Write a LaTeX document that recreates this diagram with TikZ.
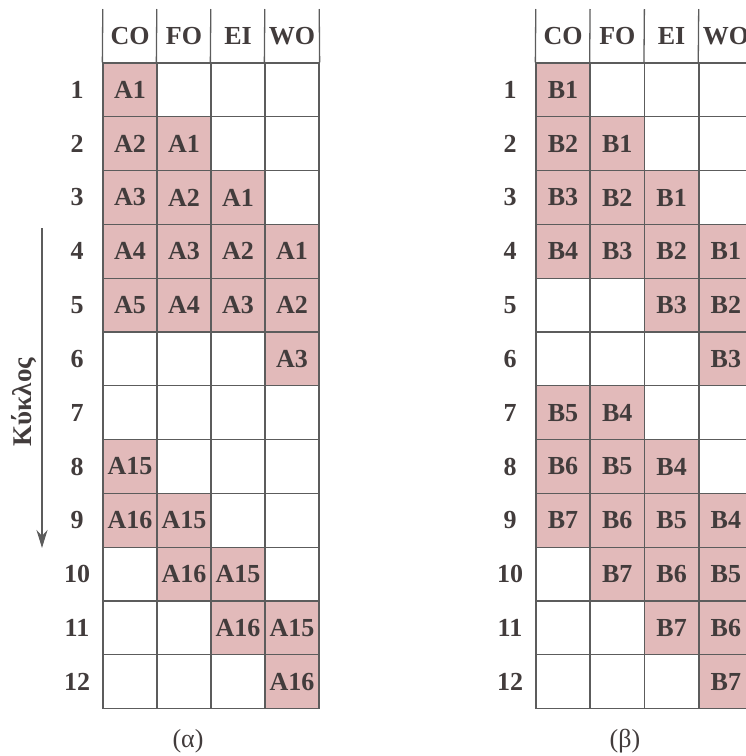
\documentclass[tikz,border=0pt]{standalone}
\usepackage{fontspec}
\setmainfont{Liberation Serif}
\usetikzlibrary{arrows.meta}
\definecolor{cellpink}{RGB}{226,186,186}
\definecolor{inkgray}{RGB}{66,60,60}
\definecolor{rulegray}{RGB}{92,92,92}

\tikzset{
  cell/.style={draw=rulegray, line width=1.3pt, minimum width=54pt, minimum height=53.8pt, inner sep=0pt},
  full/.style={cell, fill=cellpink, text=inkgray, font=\fontsize{26}{30}\selectfont\bfseries},
  head/.style={minimum width=54pt, minimum height=53.8pt, inner sep=0pt, text=inkgray, font=\fontsize{26}{30}\selectfont\bfseries},
  rownum/.style={text=inkgray, font=\fontsize{26}{30}\selectfont\bfseries},
  rule/.style={draw=rulegray, line width=1.3pt}
}

\begin{document}
\begin{tikzpicture}[x=1pt, y=-1pt]
\clip (0,0) rectangle (746,756);

% filled cells
\foreach \r/\c/\t in {1/1/A1, 2/1/A2, 2/2/A1, 3/1/A3, 3/2/A2, 3/3/A1,
    4/1/A4, 4/2/A3, 4/3/A2, 4/4/A1, 5/1/A5, 5/2/A4, 5/3/A3, 5/4/A2,
    6/4/A3, 8/1/A15, 9/1/A16, 9/2/A15, 10/2/A16, 10/3/A15,
    11/3/A16, 11/4/A15, 12/4/A16}
  \node[full] (fL-\r-\c) at ({76+54*\c}, {36.1+53.8*\r}) {\t};
\foreach \r/\c/\t in {1/1/B1, 2/1/B2, 2/2/B1, 3/1/B3, 3/2/B2, 3/3/B1,
    4/1/B4, 4/2/B3, 4/3/B2, 4/4/B1, 5/3/B3, 5/4/B2, 6/4/B3,
    7/1/B5, 7/2/B4, 8/1/B6, 8/2/B5, 8/3/B4,
    9/1/B7, 9/2/B6, 9/3/B5, 9/4/B4, 10/2/B7, 10/3/B6, 10/4/B5,
    11/3/B7, 11/4/B6, 12/4/B7}
  \node[full] (fR-\r-\c) at ({508.7+54.3*\c}, {36.1+53.8*\r}) {\t};

% grid and row numbers
\foreach \r in {1,...,12} {
  \node[rownum] (nL-\r) at (77, {36.1+53.8*\r}) {\r};
  \node[rownum] (nR-\r) at (510, {36.1+53.8*\r}) {\r};
  \foreach \c in {1,...,4} {
    \node[cell] (L-\r-\c) at ({76+54*\c}, {36.1+53.8*\r}) {};
    \node[cell] (R-\r-\c) at ({508.7+54.3*\c}, {36.1+53.8*\r}) {};
  }
}

% column heads
\foreach \c/\h in {1/CO, 2/FO, 3/EI, 4/WO} {
  \node[head] (hL-\c) at ({76+54*\c}, 36.1) {\h};
  \node[head] (hR-\c) at ({508.7+54.3*\c}, 36.1) {\h};
  \draw[rule] (hL-\c.north west) -- (L-1-\c.north west);
  \draw[rule] (hR-\c.north west) -- (R-1-\c.north west);
}
\draw[rule] (hL-4.north east) -- (L-1-4.north east);
\draw[rule] (hR-4.north east) -- (R-1-4.north east);

% cycle arrow
\coordinate (ktop) at (42,228);
\coordinate (kbot) at (42,548);
\draw[rule, line width=2pt, -{Stealth[length=18pt, width=11pt]}] (ktop) -- (kbot);
\node[rotate=90, text=inkgray, font=\fontsize{27}{30}\selectfont\bfseries] (klabel) at (24,402) {Κύκλος};

% captions
\node[text=inkgray, font=\fontsize{26}{30}\selectfont] (capA) at (188,741) {(α)};
\node[text=inkgray, font=\fontsize{26}{30}\selectfont] (capB) at (625,741) {(β)};
\end{tikzpicture}
\end{document}
